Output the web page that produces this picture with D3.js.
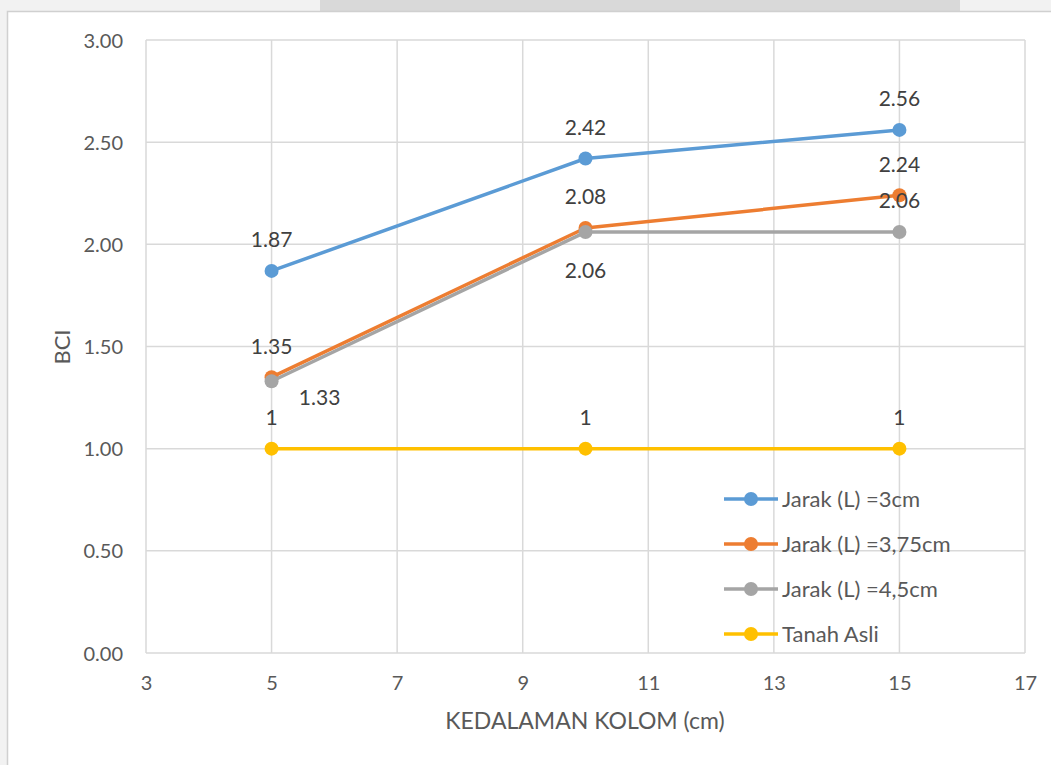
<!DOCTYPE html>
<html>
<head>
<meta charset="utf-8">
<script src="https://cdn.jsdelivr.net/npm/d3@7"></script>
<style>
  html, body { margin: 0; padding: 0; background: #f3f3f3; }
  svg { display: block; }
  text { font-family: Lato, "Open Sans", sans-serif; }
</style>
</head>
<body>
<svg id="chart" width="1051" height="765"></svg>
<script>
// Column depth (cm) on the x axis
const depths = [5, 10, 15];

// BCI values per series
const seriesNames = ["Jarak (L) =3cm", "Jarak (L) =3,75cm", "Jarak (L) =4,5cm", "Tanah Asli"];
const bci3 = [1.87, 2.42, 2.56];
const bci375 = [1.35, 2.08, 2.24];
const bci45 = [1.33, 2.06, 2.06];
const bciAsli = [1, 1, 1];

// Printed labels for each point
const labels3 = ["1.87", "2.42", "2.56"];
const labels375 = ["1.35", "2.08", "2.24"];
const labels45 = ["1.33", "2.06", "2.06"];
const labelsAsli = ["1", "1", "1"];

// Axis ticks
const xTicks = [3, 5, 7, 9, 11, 13, 15, 17];
const yTicks = [0, 0.5, 1, 1.5, 2, 2.5, 3];

const colors = ["#5B9BD5", "#ED7D31", "#A5A5A5", "#FFC000"];
// label placement: "above", "below", "belowRight"
const placement3 = ["above", "above", "above"];
const placement375 = ["above", "above", "above"];
const placement45 = ["belowRight", "below", "above"];
const placementAsli = ["above", "above", "above"];

const series = [
  { name: seriesNames[0], values: bci3, labels: labels3, place: placement3, color: colors[0] },
  { name: seriesNames[1], values: bci375, labels: labels375, place: placement375, color: colors[1] },
  { name: seriesNames[2], values: bci45, labels: labels45, place: placement45, color: colors[2] },
  { name: seriesNames[3], values: bciAsli, labels: labelsAsli, place: placementAsli, color: colors[3] }
];

const svg = d3.select("#chart");

// page backdrop around the chart frame
svg.append("rect").attr("x", 0).attr("y", 0).attr("width", 1051).attr("height", 765).attr("fill", "#f2f2f2");
svg.append("rect").attr("x", 320).attr("y", 0).attr("width", 640).attr("height", 12).attr("fill", "#d9d9d9");
// chart frame
svg.append("rect").attr("x", 7.5).attr("y", 11.5).attr("width", 1060).attr("height", 770)
  .attr("fill", "#ffffff").attr("stroke", "#d0d0d0").attr("stroke-width", 1.5);

const mLeft = 146, mRight = 1025, mTop = 40, mBottom = 653;
const x = d3.scaleLinear().domain([3, 17]).range([mLeft, mRight]);
const y = d3.scaleLinear().domain([0, 3]).range([mBottom, mTop]);

const grid = svg.append("g");
grid.selectAll("line.v").data(xTicks).join("line")
  .attr("x1", d => x(d)).attr("x2", d => x(d)).attr("y1", mTop).attr("y2", mBottom)
  .attr("stroke", "#d9d9d9").attr("stroke-width", 1.5);
grid.selectAll("line.h").data(yTicks).join("line")
  .attr("x1", mLeft).attr("x2", mRight).attr("y1", d => y(d)).attr("y2", d => y(d))
  .attr("stroke", "#d9d9d9").attr("stroke-width", 1.5);

// axes (labels only; no tick marks)
const xAxis = svg.append("g").attr("transform", `translate(0,${mBottom})`)
  .call(d3.axisBottom(x).tickValues(xTicks).tickSize(0).tickPadding(23).tickFormat(d3.format("d")));
const yAxis = svg.append("g").attr("transform", `translate(${mLeft},0)`)
  .call(d3.axisLeft(y).tickValues(yTicks).tickSize(0).tickPadding(23).tickFormat(d3.format(".2f")));
[xAxis, yAxis].forEach(a => {
  a.select(".domain").remove();
  a.selectAll("text").attr("fill", "#595959").style("font-size", "20px")
    .style("font-family", "Lato, sans-serif");
});
yAxis.selectAll("text").attr("dy", "0.35em");

// axis titles
svg.append("text").attr("x", 585).attr("y", 729).attr("text-anchor", "middle")
  .attr("fill", "#595959").style("font-size", "23px").text("KEDALAMAN KOLOM (cm)");
svg.append("text").attr("transform", "translate(70,347) rotate(-90)").attr("text-anchor", "middle")
  .attr("fill", "#595959").style("font-size", "22px").text("BCI");

const line = d3.line().x((d, i) => x(depths[i])).y(d => y(d));

const plot = svg.append("g");
series.forEach(s => {
  plot.append("path").datum(s.values).attr("d", line)
    .attr("fill", "none").attr("stroke", s.color).attr("stroke-width", 3.5).attr("stroke-linejoin", "round");
  plot.selectAll(null).data(s.values).join("circle")
    .attr("cx", (d, i) => x(depths[i])).attr("cy", d => y(d)).attr("r", 7)
    .attr("fill", s.color);
});

// data labels
series.forEach(s => {
  svg.selectAll(null).data(s.values).join("text")
    .attr("x", (d, i) => x(depths[i]) + (s.place[i] === "belowRight" ? 48 : 0))
    .attr("y", (d, i) => y(d) + (s.place[i] === "above" ? -31 : (s.place[i] === "below" ? 39 : 16)))
    .attr("dy", "0.35em")
    .attr("text-anchor", "middle")
    .attr("fill", "#404040").style("font-size", "21px")
    .text((d, i) => s.labels[i]);
});

// legend
const legend = svg.append("g");
const legendY = [499, 544, 589, 634];
series.forEach((s, i) => {
  const g = legend.append("g").attr("transform", `translate(0,${legendY[i]})`);
  g.append("line").attr("x1", 724).attr("x2", 778).attr("y1", 0).attr("y2", 0)
    .attr("stroke", s.color).attr("stroke-width", 3.5);
  g.append("circle").attr("cx", 751).attr("cy", 0).attr("r", 7).attr("fill", s.color);
  g.append("text").attr("x", 782).attr("y", 0).attr("dy", "0.35em")
    .attr("fill", "#595959").style("font-size", "22px").text(s.name);
});
</script>
</body>
</html>
